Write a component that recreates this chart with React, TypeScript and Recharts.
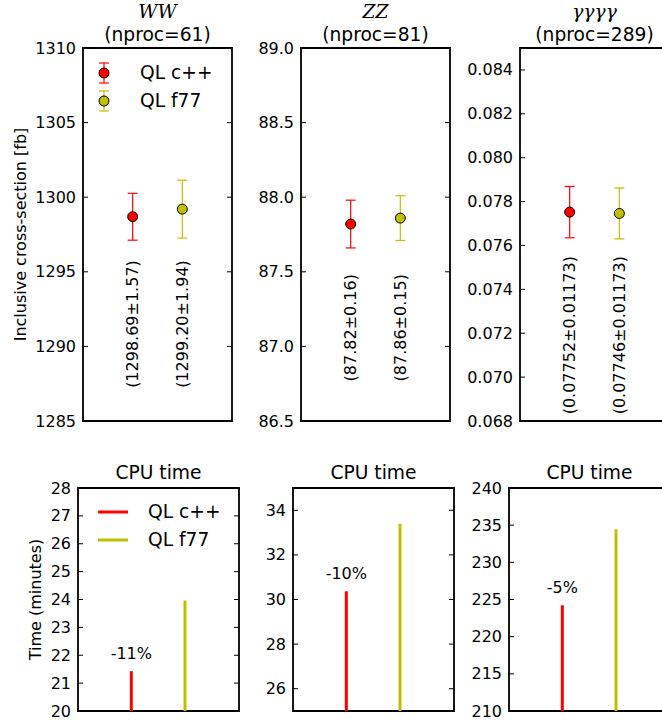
import React from 'react';
import { ComposedChart, Scatter, Bar, Cell, ErrorBar, XAxis, YAxis, ReferenceArea, ReferenceDot, LabelList, Legend } from 'recharts';

// codes and processes
const codes = ['QL c++', 'QL f77'];
const processes = ['WW', 'ZZ', 'γγγγ'];
const nprocs = [61, 81, 289];

// inclusive cross-sections [fb]
const xsecCpp = [1298.69, 87.82, 0.07752];
const xsecCppErr = [1.57, 0.16, 0.00117];
const xsecF77 = [1299.2, 87.86, 0.07746];
const xsecF77Err = [1.94, 0.15, 0.00116];
const xsecCppText = ['(1298.69±1.57)', '(87.82±0.16)', '(0.07752±0.01173)'];
const xsecF77Text = ['(1299.20±1.94)', '(87.86±0.15)', '(0.07746±0.01173)'];

// CPU time [minutes]
const cpuCpp = [21.43, 30.37, 224.22];
const cpuF77 = [23.96, 33.4, 234.44];
const cpuDiff = ['-11%', '-10%', '-5%'];

// axes
const xsecDomains = [[1285, 1310], [86.5, 89.0], [0.068, 0.085]];
const xsecTicks = [
  [1285, 1290, 1295, 1300, 1305, 1310],
  [86.5, 87.0, 87.5, 88.0, 88.5, 89.0],
  [0.068, 0.07, 0.072, 0.074, 0.076, 0.078, 0.08, 0.082, 0.084],
];
const xsecDecimals = [0, 1, 3];
const cpuDomains = [[20, 28], [25, 35], [210, 240]];
const cpuTicks = [
  [20, 21, 22, 23, 24, 25, 26, 27, 28],
  [26, 28, 30, 32, 34],
  [210, 215, 220, 225, 230, 235, 240],
];

// layout (pixels)
const TOP = { y: 48, h: 373, w: 149, lefts: [83, 301, 520] };
const BOT = { y: 488, h: 223, w: 161, lefts: [78, 293, 509] };
const PAD = 14; // room around each plot box for edge tick labels
const textLevel = [0.26, 0.25, 0.23]; // where the rotated value labels sit, as a fraction of the axis
const COLORS = ['#ff0000', '#bfbf00'];
const FONT = '"DejaVu Sans", sans-serif';
const FRAME = 1.8;

const FrameTick = (props: any) => {
  const { x, y, payload, plotW, digits } = props;
  return (
    <g>
      <line x1={x} x2={x + 5} y1={y} y2={y} stroke="#000" strokeWidth={1} />
      <line x1={x + plotW - 5} x2={x + plotW} y1={y} y2={y} stroke="#000" strokeWidth={1} />
      <text x={x - 7} y={y} textAnchor="end" dominantBaseline="central" fontSize={16} fill="#000">
        {Number(payload.value).toFixed(digits)}
      </text>
    </g>
  );
};

const AxisTitle = (props: any) => {
  const { viewBox, value, cx } = props;
  const y = viewBox.y + viewBox.height / 2;
  return (
    <text x={cx} y={y} transform={`rotate(-90 ${cx} ${y})`} textAnchor="middle" dominantBaseline="central" fontSize={16} fill="#000">
      {value}
    </text>
  );
};

const ValueText = (props: any) => {
  const { viewBox, text } = props;
  const x = viewBox.x + viewBox.width / 2;
  const y = viewBox.y + viewBox.height / 2;
  return (
    <text x={x} y={y} transform={`rotate(-90 ${x} ${y})`} textAnchor="middle" dominantBaseline="central" fontSize={16} fill="#000">
      {text}
    </text>
  );
};

const TopLegend = () => (
  <div style={{ fontFamily: FONT, fontSize: 18.67, color: '#000' }}>
    {codes.map((c, k) => (
      <div key={c} style={{ display: 'flex', alignItems: 'center', height: 28 }}>
        <svg width={16} height={24}>
          <line x1={8} x2={8} y1={2} y2={22} stroke={COLORS[k]} strokeWidth={1.2} />
          <line x1={3} x2={13} y1={2} y2={2} stroke={COLORS[k]} strokeWidth={1.2} />
          <line x1={3} x2={13} y1={22} y2={22} stroke={COLORS[k]} strokeWidth={1.2} />
          <circle cx={8} cy={12} r={5} fill={COLORS[k]} stroke="#000" strokeWidth={1} />
        </svg>
        <span style={{ marginLeft: 28, lineHeight: '28px' }}>{c}</span>
      </div>
    ))}
  </div>
);

const BottomLegend = () => (
  <div style={{ fontFamily: FONT, fontSize: 18.67, color: '#000' }}>
    {codes.map((c, k) => (
      <div key={c} style={{ display: 'flex', alignItems: 'center', height: 28 }}>
        <svg width={30} height={6}>
          <line x1={0} x2={30} y1={3} y2={3} stroke={COLORS[k]} strokeWidth={3} />
        </svg>
        <span style={{ marginLeft: 20, lineHeight: '28px' }}>{c}</span>
      </div>
    ))}
  </div>
);

function XsecPanel({ i }: { i: number }) {
  const yW = i === 0 ? 83 : 70;
  const [lo, hi] = xsecDomains[i];
  const cpp = [{ x: 1, v: xsecCpp[i], err: xsecCppErr[i], text: xsecCppText[i] }];
  const f77 = [{ x: 2, v: xsecF77[i], err: xsecF77Err[i], text: xsecF77Text[i] }];
  const level = lo + textLevel[i] * (hi - lo);
  return (
    <div style={{ position: 'absolute', left: TOP.lefts[i] - yW, top: TOP.y - PAD }}>
      <ComposedChart width={yW + TOP.w + 10} height={TOP.h + 2 * PAD} margin={{ top: PAD, right: 10, bottom: PAD, left: 0 }}>
        <XAxis type="number" dataKey="x" domain={[0, 3]} hide />
        <YAxis
          type="number"
          dataKey="v"
          domain={[lo, hi]}
          ticks={xsecTicks[i]}
          allowDataOverflow
          interval={0}
          width={yW}
          axisLine={false}
          tickLine={false}
          tickSize={0}
          tickMargin={0}
          tick={(p: any) => <FrameTick {...p} plotW={TOP.w} digits={xsecDecimals[i]} />}
          label={i === 0 ? <AxisTitle value="Inclusive cross-section [fb]" cx={20} /> : undefined}
        />
        <ReferenceArea x1={0} x2={3} y1={lo} y2={hi} fill="none" stroke="#000" strokeWidth={FRAME} />
        {[cpp, f77].map((d, k) => (
          <Scatter
            key={codes[k]}
            name={codes[k]}
            data={d}
            isAnimationActive={false}
            shape={(p: any) => <circle cx={p.cx} cy={p.cy} r={5} fill={COLORS[k]} stroke="#000" strokeWidth={1} />}
          >
            <ErrorBar dataKey="err" direction="y" width={5} stroke={COLORS[k]} strokeWidth={1.2} />
          </Scatter>
        ))}
        {[cpp, f77].map((d) => (
          <ReferenceDot key={d[0].text} x={d[0].x} y={level} r={1} fill="none" stroke="none" label={<ValueText text={d[0].text} />} />
        ))}
        {i === 0 && (
          <Legend
            layout="vertical"
            align="center"
            verticalAlign="middle"
            content={<TopLegend />}
            wrapperStyle={{ left: 96, top: PAD + 11, width: 'auto', height: 'auto' }}
          />
        )}
      </ComposedChart>
    </div>
  );
}

function CpuPanel({ i }: { i: number }) {
  const yW = i === 0 ? 78 : 60;
  const [lo, hi] = cpuDomains[i];
  const data = codes.map((c, k) => ({
    x: k + 1,
    name: c,
    t: k === 0 ? cpuCpp[i] : cpuF77[i],
    note: k === 0 ? cpuDiff[i] : '',
  }));
  return (
    <div style={{ position: 'absolute', left: BOT.lefts[i] - yW, top: BOT.y - PAD }}>
      <ComposedChart data={data} width={yW + BOT.w + 10} height={BOT.h + 2 * PAD} margin={{ top: PAD, right: 10, bottom: PAD, left: 0 }}>
        <XAxis type="number" dataKey="x" domain={[0, 3]} hide />
        <YAxis
          type="number"
          domain={[lo, hi]}
          ticks={cpuTicks[i]}
          allowDataOverflow
          interval={0}
          width={yW}
          axisLine={false}
          tickLine={false}
          tickSize={0}
          tickMargin={0}
          tick={(p: any) => <FrameTick {...p} plotW={BOT.w} digits={0} />}
          label={i === 0 ? <AxisTitle value="Time (minutes)" cx={35} /> : undefined}
        />
        <ReferenceArea x1={0} x2={3} y1={lo} y2={hi} fill="none" stroke="#000" strokeWidth={FRAME} />
        <Bar dataKey="t" barSize={3} isAnimationActive={false}>
          {data.map((d, k) => (
            <Cell key={d.name} fill={COLORS[k]} />
          ))}
          <LabelList dataKey="note" position="top" offset={12} fill="#000" fontSize={16} />
        </Bar>
        {i === 0 && (
          <Legend
            layout="vertical"
            align="center"
            verticalAlign="middle"
            content={<BottomLegend />}
            wrapperStyle={{ left: 98, top: PAD + 10, width: 'auto', height: 'auto' }}
          />
        )}
      </ComposedChart>
    </div>
  );
}

export default function App() {
  const topCenters = TOP.lefts.map((l) => l + TOP.w / 2);
  const botCenters = BOT.lefts.map((l) => l + BOT.w / 2);
  return (
    <div
      style={{
        position: 'absolute',
        left: 0,
        top: 0,
        width: 662,
        height: 720,
        overflow: 'hidden',
        background: '#fff',
        fontFamily: FONT,
      }}
    >
      {[0, 1, 2].map((i) => (
        <XsecPanel key={`x${i}`} i={i} />
      ))}
      {[0, 1, 2].map((i) => (
        <CpuPanel key={`c${i}`} i={i} />
      ))}
      <svg width={662} height={720} style={{ position: 'absolute', left: 0, top: 0, pointerEvents: 'none' }}>
        {processes.map((p, i) => (
          <g key={p}>
            <text x={topCenters[i]} y={18} textAnchor="middle" fontSize={18.67} fontStyle="italic" fontFamily='"DejaVu Serif", serif' fill="#000">
              {p}
            </text>
            <text x={topCenters[i]} y={41} textAnchor="middle" fontSize={18.67} fill="#000">
              (nproc={nprocs[i]})
            </text>
            <text x={botCenters[i]} y={479} textAnchor="middle" fontSize={18.67} fill="#000">
              CPU time
            </text>
          </g>
        ))}
      </svg>
    </div>
  );
}
